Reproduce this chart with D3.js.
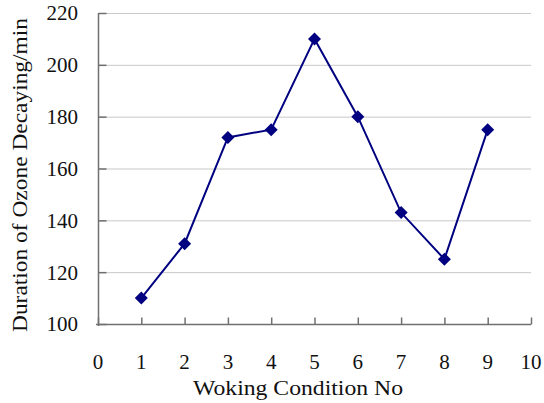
<!DOCTYPE html>
<html>
<head>
<meta charset="utf-8">
<script src="https://cdn.jsdelivr.net/npm/d3@7"></script>
<style>
  body { margin: 0; background: #fff; }
</style>
</head>
<body>
<svg id="chart" width="544" height="403" font-family="'Liberation Serif', 'DejaVu Serif', serif"></svg>
<script>
const conditions = [1, 2, 3, 4, 5, 6, 7, 8, 9];
const durations = [110, 131, 172, 175, 210, 180, 143, 125, 175];
const xTicks = [0, 1, 2, 3, 4, 5, 6, 7, 8, 9, 10];
const yTicks = [100, 120, 140, 160, 180, 200, 220];

const svg = d3.select('#chart');
const plotLeft = 98, plotRight = 531, plotTop = 13, plotBottom = 324;
const fontFam = "'Liberation Serif', 'DejaVu Serif', serif";

const x = d3.scaleLinear().domain([0, 10]).range([plotLeft, plotRight]);
const y = d3.scaleLinear().domain([100, 220]).range([plotBottom, plotTop]);

// gridlines
svg.append('g')
  .selectAll('line')
  .data(yTicks.filter((d) => d > 100))
  .join('line')
  .attr('x1', plotLeft)
  .attr('x2', plotRight)
  .attr('y1', (d) => y(d) + 0.5)
  .attr('y2', (d) => y(d) + 0.5)
  .attr('stroke', '#c8c8c8')
  .attr('stroke-width', 1);

// y axis
const yAxis = svg.append('g')
  .attr('transform', `translate(${plotLeft + 0.5},0)`)
  .call(d3.axisRight(y).tickValues(yTicks).tickSize(8).tickFormat(''));
yAxis.select('.domain').attr('stroke', '#707070').attr('stroke-width', 1.5).attr('d', `M0,${plotTop}V${plotBottom + 2}`);
yAxis.selectAll('.tick line').attr('stroke', '#707070').attr('stroke-width', 1.5);

svg.append('g')
  .selectAll('text')
  .data(yTicks)
  .join('text')
  .attr('x', 78)
  .attr('y', (d) => y(d))
  .attr('dy', '0.35em')
  .attr('text-anchor', 'end')
  .attr('font-family', fontFam)
  .attr('font-size', 21)
  .attr('fill', '#111')
  .text((d) => d);

// x axis
const xAxis = svg.append('g')
  .attr('transform', `translate(0,${plotBottom + 0.5})`)
  .call(d3.axisTop(x).tickValues(xTicks).tickSize(7).tickFormat(''));
xAxis.select('.domain').attr('stroke', '#707070').attr('stroke-width', 1.5).attr('d', `M${plotLeft - 2},0H${plotRight}`);
xAxis.selectAll('.tick line').attr('stroke', '#707070').attr('stroke-width', 1.5);

svg.append('g')
  .selectAll('text')
  .data(xTicks)
  .join('text')
  .attr('x', (d) => x(d))
  .attr('y', 362)
  .attr('dy', '0.35em')
  .attr('text-anchor', 'middle')
  .attr('font-family', fontFam)
  .attr('font-size', 21)
  .attr('fill', '#111')
  .text((d) => d);

// axis titles
svg.append('text')
  .attr('x', 298)
  .attr('y', 395)
  .attr('text-anchor', 'middle')
  .attr('font-family', fontFam)
  .attr('font-size', 22)
  .attr('textLength', 210)
  .attr('lengthAdjust', 'spacingAndGlyphs')
  .attr('fill', '#111')
  .text('Woking Condition No');

svg.append('text')
  .attr('transform', 'translate(27,175) rotate(-90)')
  .attr('text-anchor', 'middle')
  .attr('font-family', fontFam)
  .attr('font-size', 22)
  .attr('textLength', 314)
  .attr('lengthAdjust', 'spacingAndGlyphs')
  .attr('fill', '#111')
  .text('Duration of Ozone Decaying/min');

// series
const pts = conditions.map((c, i) => [c, durations[i]]);
svg.append('path')
  .datum(pts)
  .attr('fill', 'none')
  .attr('stroke', '#000080')
  .attr('stroke-width', 2)
  .attr('d', d3.line().x((d) => x(d[0])).y((d) => y(d[1])));

svg.append('g')
  .selectAll('path')
  .data(pts)
  .join('path')
  .attr('transform', (d) => `translate(${x(d[0])},${y(d[1])})`)
  .attr('d', 'M0,-6.5L6.5,0L0,6.5L-6.5,0Z')
  .attr('fill', '#000080');
</script>
</body>
</html>
